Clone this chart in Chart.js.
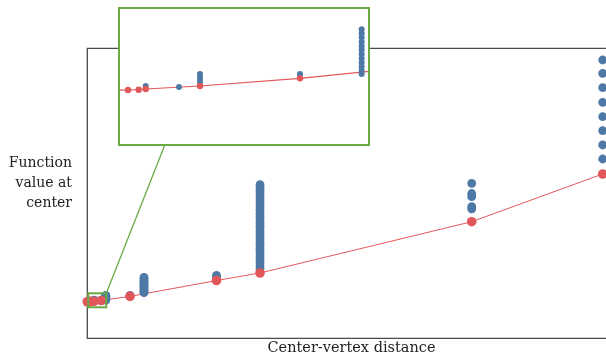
<!DOCTYPE html>
<html>
<head>
<meta charset="utf-8">
<script src="https://cdn.jsdelivr.net/npm/chart.js@4/dist/chart.umd.min.js"></script>
<style>
  body { margin: 0; background: #fff; }
  #wrap { position: relative; width: 606px; height: 361px; overflow: hidden; }
  #main { position: absolute; left: 0; top: 0; }
  #inset { position: absolute; left: 118px; top: 7px; }
</style>
</head>
<body>
<div id="wrap">
  <canvas id="main" width="606" height="361"></canvas>
  <canvas id="inset" width="252" height="139"></canvas>
</div>
<script>
// red: value at the centre, joined by a line
const redX = [0, 0.315, 0.463, 0.561, 1.314, 2.702, 8.23, 24.91, 33.30, 74.11, 99.36];
const redY = [12.61, 12.63, 12.64, 12.664, 12.77, 13.04, 14.45, 19.93, 22.52, 40.21, 56.66];

// blue: the other sampled values
const blueX = [
  0.561, 1.023,
  1.314, 1.314, 1.314, 1.314,
  2.702, 2.702,
  3.558, 3.558, 3.558, 3.558, 3.558, 3.558, 3.558, 3.558, 3.558, 3.558, 3.558, 3.558,
  8.23,
  10.93, 10.93, 10.93, 10.93, 10.93, 10.93, 10.93, 10.93, 10.93, 10.93, 10.93, 10.93,
  24.91, 24.91,
  33.30, 33.30, 33.30, 33.30, 33.30, 33.30, 33.30, 33.30, 33.30, 33.30,
  33.30, 33.30, 33.30, 33.30, 33.30, 33.30, 33.30, 33.30, 33.30, 33.30,
  33.30, 33.30, 33.30, 33.30, 33.30, 33.30, 33.30, 33.30, 33.30, 33.30,
  74.11, 74.11, 74.11, 74.11, 74.11,
  99.36, 99.36, 99.36, 99.36, 99.36, 99.36, 99.36, 99.36
];
const blueY = [
  12.77, 12.734,
  13.19, 13.09, 12.98, 12.87,
  13.19, 13.08,
  14.77, 14.63, 14.49, 14.33, 14.18, 14.04, 13.89, 13.74, 13.59, 13.45, 13.31, 13.19,
  14.8,
  21.0, 20.5, 20.0, 19.5, 19.0, 18.5, 18.0, 17.5, 17.0, 16.5, 16.0, 15.76,
  21.69, 21.14,
  53.0, 52.1, 51.0, 50.2, 49.1, 48.0, 47.1, 46.0, 45.0, 44.1,
  43.0, 42.0, 41.1, 40.0, 39.0, 38.1, 37.0, 36.0, 35.1, 34.0,
  33.0, 32.1, 31.0, 30.0, 29.1, 28.0, 27.0, 26.1, 25.0, 24.0,
  53.45, 49.93, 48.83, 45.38, 44.59,
  95.97, 91.38, 86.41, 81.38, 76.41, 71.59, 66.66, 61.83
];

// zoomed window shown in the inset
const zoomX = [0.19, 3.66];
const zoomY = [10.69, 15.52];

const RED = "#e15759";
const BLUE = "#4e79a7";
const GREEN = "#6aaa45";
const SPINE = "#4a4a4a";

const toPts = (xs, ys) => xs.map((x, i) => ({ x: x, y: ys[i] }));

const makeDatasets = (rRed, rBlue, lw) => [
  {
    data: toPts(redX, redY),
    showLine: false,
    pointRadius: rRed,
    pointBackgroundColor: RED,
    pointBorderWidth: 0,
  },
  {
    data: toPts(blueX, blueY),
    showLine: false,
    pointRadius: rBlue,
    pointBackgroundColor: BLUE,
    pointBorderWidth: 0,
  },
  {
    data: toPts(redX, redY),
    showLine: true,
    borderColor: RED,
    borderWidth: lw,
    pointRadius: 0,
    tension: 0,
  },
];

const mainDecor = {
  id: "mainDecor",
  beforeDatasetsDraw(chart) {
    const { ctx, chartArea: a } = chart;
    ctx.save();
    ctx.strokeStyle = SPINE;
    ctx.lineWidth = 1.3;
    ctx.beginPath();
    ctx.moveTo(a.right, a.top);
    ctx.lineTo(a.left, a.top);
    ctx.lineTo(a.left, a.bottom);
    ctx.lineTo(a.right, a.bottom);
    ctx.stroke();
    ctx.restore();
  },
  afterDatasetsDraw(chart) {
    const { ctx, scales } = chart;
    const x0 = scales.x.getPixelForValue(zoomX[0]);
    const x1 = scales.x.getPixelForValue(zoomX[1]);
    const y0 = scales.y.getPixelForValue(zoomY[1]);
    const y1 = scales.y.getPixelForValue(zoomY[0]);
    ctx.save();
    ctx.strokeStyle = GREEN;
    ctx.lineWidth = 2;
    ctx.strokeRect(x0, y0, x1 - x0, y1 - y0);
    // connector to the inset (hidden under it at the top)
    ctx.lineWidth = 1.3;
    ctx.beginPath();
    ctx.moveTo(x1, y0);
    ctx.lineTo(x1 + 60, y0 - 152);
    ctx.stroke();
    ctx.restore();
  },
  afterDraw(chart) {
    const { ctx } = chart;
    ctx.save();
    ctx.fillStyle = "#222";
    ctx.font = "14px 'DejaVu Serif'";
    ctx.textAlign = "right";
    ctx.fillText("Function", 72, 167);
    ctx.fillText("value at", 72, 187);
    ctx.fillText("center", 72, 207);
    ctx.font = "14.5px 'DejaVu Serif'";
    ctx.textAlign = "center";
    ctx.fillText("Center-vertex distance", 351.5, 352);
    ctx.restore();
  },
};

new Chart(document.getElementById("main"), {
  type: "scatter",
  data: { datasets: makeDatasets(4.8, 4.4, 1) },
  options: {
    responsive: false,
    animation: false,
    devicePixelRatio: 1,
    events: [],
    layout: { autoPadding: false, padding: { left: 87.3, right: 0, top: 48.3, bottom: 22.7 } },
    datasets: { scatter: { clip: false } },
    plugins: { legend: { display: false }, tooltip: { enabled: false } },
    scales: {
      x: { type: "linear", min: 0, max: 100, display: false },
      y: { type: "linear", min: 0, max: 100, display: false },
    },
  },
  plugins: [mainDecor],
});

const insetDecor = {
  id: "insetDecor",
  beforeDraw(chart) {
    const { ctx, width, height } = chart;
    ctx.save();
    ctx.fillStyle = "#fff";
    ctx.fillRect(0, 0, width, height);
    ctx.restore();
  },
  afterDraw(chart) {
    const { ctx, chartArea: a } = chart;
    ctx.save();
    ctx.strokeStyle = GREEN;
    ctx.lineWidth = 2;
    ctx.strokeRect(a.left, a.top, a.right - a.left, a.bottom - a.top);
    ctx.restore();
  },
};

new Chart(document.getElementById("inset"), {
  type: "scatter",
  data: { datasets: makeDatasets(3.2, 3, 1.2) },
  options: {
    responsive: false,
    animation: false,
    devicePixelRatio: 1,
    events: [],
    layout: { autoPadding: false, padding: 1 },
    plugins: { legend: { display: false }, tooltip: { enabled: false } },
    scales: {
      x: { type: "linear", min: zoomX[0], max: zoomX[1], display: false },
      y: { type: "linear", min: zoomY[0], max: zoomY[1], display: false },
    },
  },
  plugins: [insetDecor],
});
</script>
</body>
</html>
